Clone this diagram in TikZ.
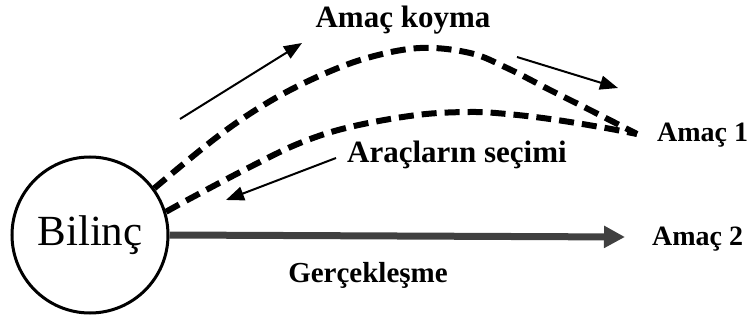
\documentclass[tikz,border=0pt]{standalone}
\usepackage{fontspec}
\setmainfont{Liberation Serif}
\usetikzlibrary{arrows.meta}
\tikzset{
  lbl/.style={font=\bfseries\fontsize{28}{31}\selectfont, inner sep=0pt},
  biglbl/.style={font=\bfseries\fontsize{31}{34}\selectfont, inner sep=0pt},
  dashcurve/.style={line width=6pt, dash pattern=on 15pt off 8pt},
  thinarrow/.style={line width=2pt, -{Triangle[length=18pt,width=14pt]}},
  mainarrow/.style={line width=7pt, draw=black!75, -{Triangle[length=21pt,width=21pt,fill=black!75]}}
}
\begin{document}
\begin{tikzpicture}[x=1pt,y=-1pt]
\useasboundingbox (0,0) rectangle (752,323);
\node[draw, circle, line width=3pt, minimum size=156pt, inner sep=0pt,
      font=\fontsize{43}{46}\selectfont] (b) at (90,235) {Bilinç};
\coordinate (g1) at (637,134);
\coordinate (g2) at (625,237);
% dashed curves
\draw[dashcurve] plot[smooth, tension=0.6] coordinates {(b.36) (217,137) (267,103) (317,77) (367,58) (420,48) (470,53) (507,68) (550,90) (590,110) (g1)};
\draw[dashcurve] plot[smooth, tension=0.6] coordinates {(b.17) (193,197) (250,167) (300,143) (350,127) (417,115) (470,112) (507,114) (550,119) (600,127) (g1)};
% main arrow
\draw[mainarrow] (b.east) -- (g2);
% thin arrows
\coordinate (a1s) at (180,119);
\coordinate (a1e) at (302,43);
\coordinate (a2s) at (517,57);
\coordinate (a2e) at (618,88);
\coordinate (a3s) at (336,158);
\coordinate (a3e) at (226,200);
\draw[thinarrow] (a1s) -- (a1e);
\draw[thinarrow] (a2s) -- (a2e);
\draw[thinarrow] (a3s) -- (a3e);
% labels
\node[biglbl, anchor=base] (t1) at (403,28) {Amaç koyma};
\node[biglbl, anchor=base west] (t2) at (347,163) {Araçların seçimi};
\node[lbl, anchor=base west] (t3) at (657,142) {Amaç 1};
\node[lbl, anchor=base west] (t4) at (652,245) {Amaç 2};
\node[lbl, font=\bfseries\fontsize{29}{32}\selectfont, anchor=base] (t5) at (368,282) {Gerçekleşme};
\end{tikzpicture}
\end{document}
